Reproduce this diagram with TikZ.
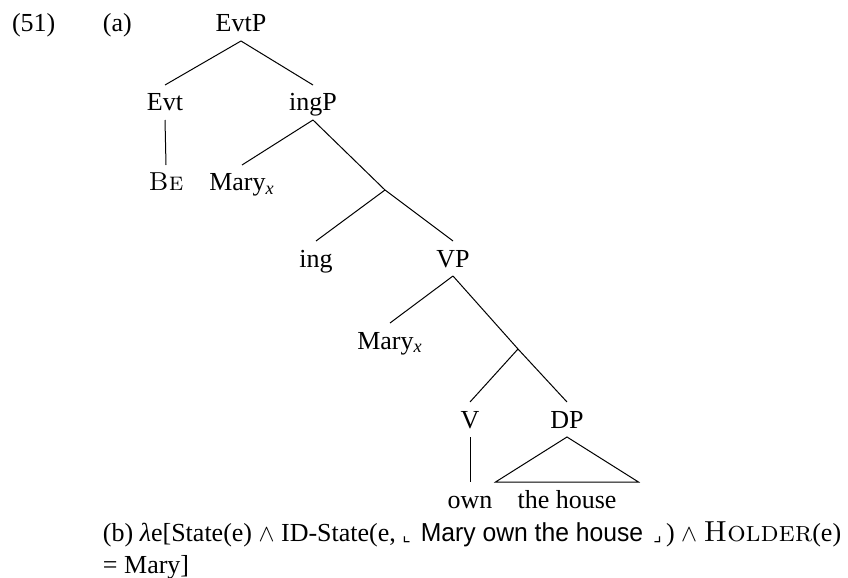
\documentclass[tikz,border=0pt]{standalone}
\usepackage{fontspec}
\usepackage{graphicx}
\setmainfont{Liberation Serif}
\newfontfamily\narrowsans{Liberation Sans}
\newfontfamily\cornerfont{DejaVu Sans}
\newcommand{\lmsc}[1]{{\fontfamily{lmr}\selectfont\scshape #1}}
\newcommand{\quoted}[1]{{\cornerfont\small ⌞}\hspace{5pt}\scalebox{0.95}[1]{\narrowsans #1}\hspace{5pt}{\cornerfont\small ⌟}}
\begin{document}
\begin{tikzpicture}[x=0.5pt,y=-0.5pt,inner sep=0pt,outer sep=0pt,line width=0.5pt,
font=\fontsize{13}{16}\selectfont,
lbl/.style={inner sep=0pt,text height=13pt,text depth=4.5pt,anchor=base},
txt/.style={inner sep=0pt,anchor=base west}]
\useasboundingbox (0,0) rectangle (848,578);
\node[txt] (exno) at (12,32) {(51)};
\node[txt] (parta) at (103,32) {(a)};
\node[lbl] (evtp) at (241,32) {EvtP};
\node[lbl] (evt) at (165,111) {Evt};
\node[lbl] (ingp) at (313,111) {ingP};
\node[lbl] (be) at (166,191) {\lmsc{Be}};
\node[lbl] (mary1) at (242,191) {Mary\textsubscript{\itshape x}};
\coordinate (ingbar) at (385,190);
\node[lbl] (ing) at (316,267) {ing};
\node[lbl] (vp) at (453,267) {VP};
\node[lbl] (mary2) at (390,349) {Mary\textsubscript{\itshape x}};
\coordinate (vbar) at (518,349);
\node[lbl] (v) at (470,428) {V};
\node[lbl] (dp) at (567,428) {DP};
\node[lbl] (own) at (470,508) {own};
\node[lbl] (house) at (567,508) {the house};
\draw (evtp.south) -- (evt.north);
\draw (evtp.south) -- (ingp.north);
\draw (evt.south) -- (be.north);
\draw (ingp.south) -- (mary1.north);
\draw (ingp.south) -- (ingbar) -- (vp.north);
\draw (ingbar) -- (ing.north);
\draw (vp.south) -- (mary2.north);
\draw (vp.south) -- (vbar) -- (dp.north);
\draw (vbar) -- (v.north);
\draw (v.south) -- (own.north);
\draw (dp.south) -- ([xshift=-11]house.north west) -- ([xshift=11]house.north east) -- cycle;
\node[txt] (partb) at (103,541) {(b) {\itshape λ}e[State(e) $\wedge$ ID-State(e, \quoted{Mary own the house}\,) $\wedge$ {\fontsize{14.5}{17}\selectfont\lmsc{Holder}}(e)};
\node[txt] (partb2) at (103,573) {= Mary]};
\end{tikzpicture}
\end{document}
